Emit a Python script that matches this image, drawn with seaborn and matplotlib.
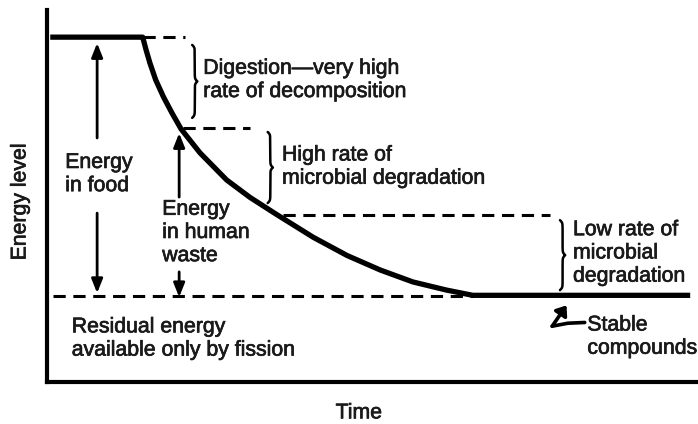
import numpy as np
import matplotlib
matplotlib.use("Agg")
import matplotlib.pyplot as plt
import matplotlib.patheffects as pe
import seaborn as sns

# energy curve (time and energy in arbitrary 0-100 units)
time = [0.5, 14.7, 15.2, 15.8, 16.7, 17.9, 19.2, 20.6, 23.5, 27.6, 31.2, 35.3, 40.9,
        46.1, 51.2, 56.2, 61.4, 65.4, 98.8]
energy = [92.7, 92.7, 89.4, 85.8, 81.2, 76.6, 72.3, 68.0, 61.6, 54.3, 49.6, 45.0, 38.9,
          34.0, 30.1, 26.9, 24.7, 23.3, 23.3]

# energy levels marked by the dashed guides
levels = [92.7, 68.3, 44.9, 23.2]
guide_start = [14.7, 20.9, 36.3, 0.9]
guide_end = [21.2, 31.2, 77.3, 65.4]

# braces between levels
brace_x = [22.3, 33.9, 78.8]
brace_lo = [71.0, 48.1, 24.7]
brace_hi = [90.6, 67.2, 43.5]

labels = [
    ("Digestion\u2014very high\nrate of decomposition", 24.0, 81.2),
    ("High rate of\nmicrobial degradation", 36.1, 57.9),
    ("Energy\nin food", 2.8, 55.9),
    ("Energy\nin human\nwaste", 17.7, 40.2),
    ("Residual energy\navailable only by fission", 3.8, 11.7),
    ("Low rate of\nmicrobial\ndegradation", 80.8, 34.7),
    ("Stable\ncompounds", 83.0, 12.2),
]

sns.set_theme(style="white")
plt.rcParams["font.family"] = ["Liberation Sans", "DejaVu Sans"]

fig = plt.figure(figsize=(6.98, 4.24), dpi=100)
ax = fig.add_axes([47 / 698, 42 / 424, 651 / 698, 372 / 424])
ax.set_xlim(0, 100)
ax.set_ylim(0, 100)

sns.lineplot(x=time, y=energy, color="black", lw=3.8, ax=ax, solid_capstyle="butt",
             solid_joinstyle="round")

# dashed guide lines
for lv, x0, x1 in zip(levels, guide_start, guide_end):
    ax.plot([x0, x1], [lv, lv], color="black", lw=2.2, dashes=(4, 2.5))


def brace(x, y0, y1, w=0.8, beta=3.0):
    half = (y1 - y0) / 2
    s = np.linspace(0, half, 100)
    xs = 1 / (1 + np.exp(-beta * s)) + 1 / (1 + np.exp(-beta * (s - half)))
    xs = (xs - 0.5) * w
    ys = y0 + s
    xx = np.concatenate([xs, xs[::-1]])
    yy = np.concatenate([ys, y1 - s[::-1]])
    ax.plot(x + xx, yy, color="black", lw=1.8, solid_capstyle="round")


for bx, lo, hi in zip(brace_x, brace_lo, brace_hi):
    brace(bx, lo, hi)

arrow = dict(arrowstyle="-|>,head_length=0.7,head_width=0.28", lw=2, color="black",
             shrinkA=0, shrinkB=0)
# energy in food
ax.annotate("", xy=(7.7, 91.1), xytext=(7.7, 65.6), arrowprops=arrow)
ax.annotate("", xy=(7.7, 23.9), xytext=(7.7, 45.4), arrowprops=arrow)
# energy in human waste
ax.annotate("", xy=(20.3, 66.9), xytext=(20.3, 49.7), arrowprops=arrow)
ax.annotate("", xy=(20.3, 22.8), xytext=(20.3, 29.6), arrowprops=arrow)

# stable compounds hook: tail running left, then a short arrow up to the right
ax.plot([82.6, 80.0, 77.6], [16.0, 15.8, 15.0], color="black", lw=2.6,
        solid_capstyle="round", solid_joinstyle="round")
ax.annotate("", xy=(79.8, 20.6), xytext=(77.6, 15.0),
            arrowprops=dict(arrowstyle="-|>,head_length=0.45,head_width=0.35", lw=2.6,
                            color="black", shrinkA=0, shrinkB=0))

stroke = [pe.withStroke(linewidth=0.5, foreground="#1a1a1a")]
for txt, x, y in labels:
    ax.text(x, y, txt, fontsize=15.3, color="#1a1a1a", ha="left", va="center",
            linespacing=1.28, path_effects=stroke)

ax.set_xticks([])
ax.set_yticks([])
sns.despine(ax=ax)
for side in ["left", "bottom"]:
    ax.spines[side].set_linewidth(3)
    ax.spines[side].set_color("black")

ax.set_xlabel("Time", fontsize=15.3, color="#1a1a1a", va="center", path_effects=stroke)
ax.set_ylabel("Energy level", fontsize=15.3, color="#1a1a1a", va="center", ha="center",
              path_effects=stroke)
ax.xaxis.set_label_coords(0.479, -0.083)
ax.yaxis.set_label_coords(-0.0415, 0.484)

fig.savefig("out.png", dpi=100)
